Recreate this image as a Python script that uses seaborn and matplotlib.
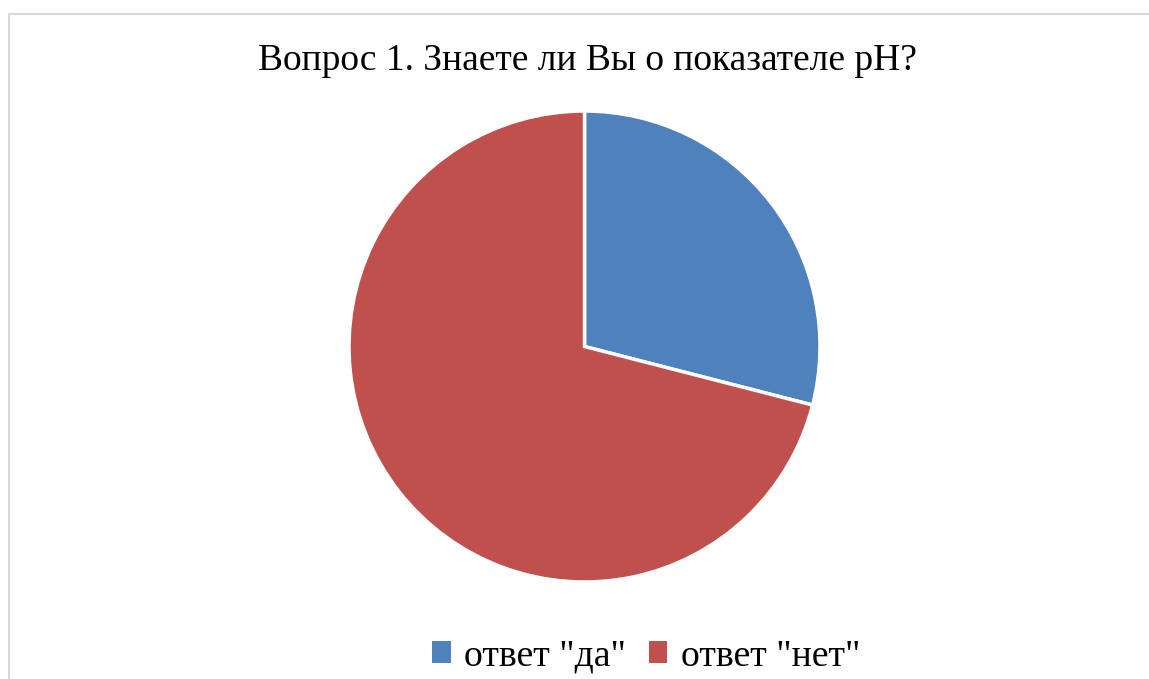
import matplotlib
matplotlib.use("Agg")
import matplotlib.pyplot as plt
import seaborn as sns
from matplotlib.patches import Patch, Rectangle

labels = ['ответ "да"', 'ответ "нет"']
values = [29, 71]
colors = ["#4F81BD", "#C0504D"]
title = "Вопрос 1. Знаете ли Вы о показателе pH?"

sns.set_theme(style="white")
plt.rcParams['font.family'] = ['Liberation Serif', 'DejaVu Serif']
plt.rcParams['text.color'] = 'black'

W, H = 1149, 679
fig = plt.figure(figsize=(W / 100, H / 100), dpi=100)

# light gray frame like the office chart area
fig.patches.append(Rectangle((9 / W, -0.1), 1.2, 1.1 - 14 / H, transform=fig.transFigure,
                             fill=False, edgecolor="#d9d9d9", linewidth=1.5))

cx, cy, r = 584.5, 346.5, 235.5
ax = fig.add_axes([(cx - r) / W, (H - cy - r) / H, 2 * r / W, 2 * r / H])
wedges, _ = ax.pie(values, colors=colors, startangle=90, counterclock=False,
                   wedgeprops=dict(edgecolor="white", linewidth=2.5))
ax.set_xlim(-1.0, 1.0)
ax.set_ylim(-1.0, 1.0)
ax.set_aspect("equal")
ax.axis("off")

fig.text(587.5 / W, 1 - 70 / H, title, ha="center", va="baseline", fontsize=27, color="black")

handles = [Patch(facecolor=c, edgecolor="none") for c in colors]
leg = fig.legend(handles, labels, loc="lower center", bbox_to_anchor=(646 / W, -0.042),
                 ncol=2, frameon=False, fontsize=27.2, handlelength=0.5, handleheight=0.5,
                 handletextpad=0.35, columnspacing=0.6)
for t in leg.get_texts():
    t.set_color("black")

fig.savefig("out.png", dpi=100)
